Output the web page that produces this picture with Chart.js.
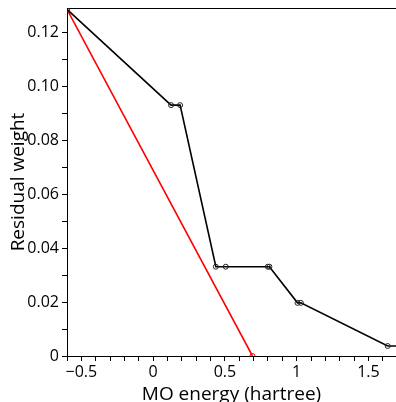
<!DOCTYPE html>
<html>
<head>
<meta charset="utf-8">
<script src="https://cdn.jsdelivr.net/npm/chart.js@4/dist/chart.umd.min.js"></script>
<style>
  html, body { margin: 0; padding: 0; background: #fff; }
  #wrap { width: 396px; height: 402px; }
</style>
</head>
<body>
<div id="wrap"><canvas id="c" width="396" height="402"></canvas></div>
<script>
// ---- data ----
const blackX = [-0.6, 0.125, 0.188, 0.437, 0.506, 0.799, 0.81, 1.006, 1.029, 1.634, 1.85];
const blackY = [0.1285, 0.093, 0.093, 0.0331, 0.0331, 0.0331, 0.0331, 0.0197, 0.0197, 0.0037, 0.0037];
const redX = [-0.6, 0.692];
const redY = [0.1285, 0];

// ---- ticks ----
const xMinorTicks = [-0.6,-0.5,-0.4,-0.3,-0.2,-0.1,0,0.1,0.2,0.3,0.4,0.5,0.6,0.7,0.8,0.9,1,1.1,1.2,1.3,1.4,1.5,1.6];
const xTickValues = [-0.5, 0, 0.5, 1, 1.5];
const xTickLabels = ['\u22120.5', '0', '0.5', '1', '1.5'];
const yMinorTicks = [0,0.01,0.02,0.03,0.04,0.05,0.06,0.07,0.08,0.09,0.1,0.11,0.12];
const yTickValues = [0, 0.02, 0.04, 0.06, 0.08, 0.10, 0.12];
const yTickLabels = ['0', '0.02', '0.04', '0.06', '0.08', '0.10', '0.12'];

const xRange = [-0.6, 1.692];
const yRange = [0, 0.129];

function labelFor(value, vals, labs) {
  for (let i = 0; i < vals.length; i++) {
    if (Math.abs(vals[i] - value) < 1e-6) return labs[i];
  }
  return '';
}

Chart.defaults.font.family = '"Open Sans", "DejaVu Sans", sans-serif';
Chart.defaults.color = '#000';

const toXY = (xs, ys) => xs.map((x, i) => ({ x: x, y: ys[i] }));

function noPad(s) {
  s.paddingLeft = 0; s.paddingRight = 0; s.paddingTop = 0; s.paddingBottom = 0;
}

new Chart(document.getElementById('c'), {
  type: 'scatter',
  data: {
    datasets: [
      {
        data: toXY(blackX, blackY),
        showLine: true,
        borderColor: '#000',
        borderWidth: 1.6,
        pointRadius: 2.5,
        pointBorderWidth: 1,
        pointBorderColor: '#222',
        pointBackgroundColor: 'rgba(0,0,0,0)'
      },
      {
        data: toXY(redX, redY),
        showLine: true,
        borderColor: '#ff0000',
        borderWidth: 1.6,
        pointRadius: 2.5,
        pointBorderWidth: 1,
        pointBorderColor: '#ff0000',
        pointBackgroundColor: 'rgba(0,0,0,0)'
      }
    ]
  },
  options: {
    responsive: false,
    animation: false,
    events: [],
    layout: { padding: 0, autoPadding: false },
    plugins: { legend: { display: false }, tooltip: { enabled: false } },
    scales: {
      x: {
        type: 'linear',
        position: 'bottom',
        min: xRange[0],
        max: xRange[1],
        afterBuildTicks: (s) => { s.ticks = xMinorTicks.map(v => ({ value: v })); },
        afterFit: (s) => { s.height = 46; noPad(s); },
        grid: { drawOnChartArea: false, drawTicks: true, tickLength: 5, color: '#000', tickColor: '#000' },
        border: { display: true, color: '#000', width: 1 },
        ticks: {
          autoSkip: false,
          maxRotation: 0,
          padding: 2,
          font: { size: 16 },
          color: '#000',
          callback: (v) => labelFor(v, xTickValues, xTickLabels)
        },
        title: {
          display: true,
          text: 'MO energy (hartree)',
          font: { size: 19, lineHeight: 0.8 },
          color: '#000',
          padding: { top: 0, bottom: 0 }
        }
      },
      x2: {
        type: 'linear',
        position: 'top',
        min: xRange[0],
        max: xRange[1],
        afterFit: (s) => { s.height = 8; noPad(s); },
        grid: { display: false, drawOnChartArea: false, drawTicks: false },
        border: { display: true, color: '#000', width: 1 },
        ticks: { display: false }
      },
      y: {
        type: 'linear',
        min: yRange[0],
        max: yRange[1],
        afterBuildTicks: (s) => { s.ticks = yMinorTicks.map(v => ({ value: v })); },
        afterFit: (s) => { s.width = 67; noPad(s); },
        grid: { drawOnChartArea: false, drawTicks: true, tickLength: 5, color: '#000', tickColor: '#000' },
        border: { display: true, color: '#000', width: 1 },
        ticks: {
          autoSkip: false,
          padding: 3,
          font: { size: 16, lineHeight: 1 },
          color: '#000',
          callback: (v) => labelFor(v, yTickValues, yTickLabels)
        },
        title: {
          display: true,
          text: 'Residual weight',
          font: { size: 19, lineHeight: 0.8 },
          color: '#000',
          padding: { top: 11, bottom: 0 }
        }
      }
    }
  }
});
</script>
</body>
</html>
